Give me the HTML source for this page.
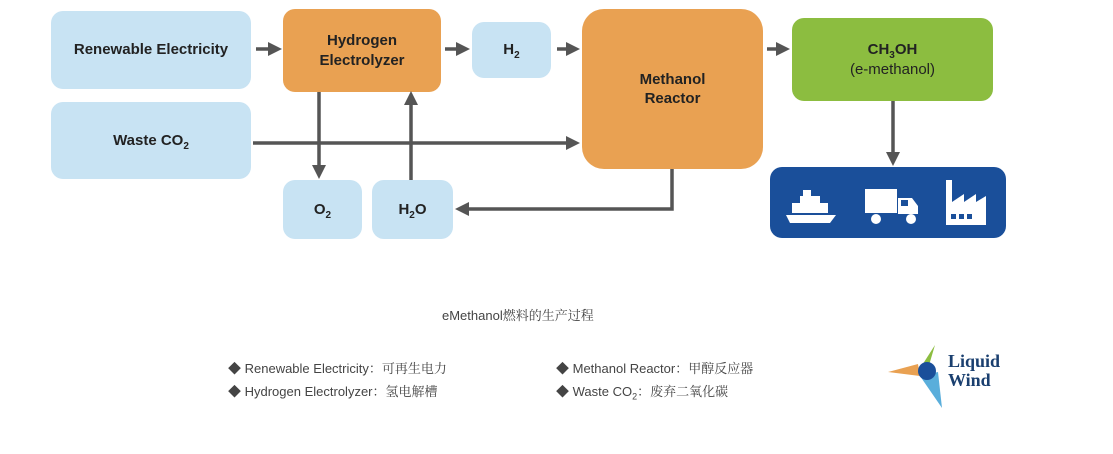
<!DOCTYPE html>
<html><head><meta charset="utf-8"><style>
body{margin:0;width:1113px;height:454px;background:#fff;position:relative;overflow:hidden;font-family:"Liberation Sans","Noto Sans CJK SC",sans-serif}
.b{position:absolute;border-radius:12px;display:flex;align-items:center;justify-content:center;text-align:center;font-weight:bold;font-size:15px;color:#222;line-height:1.3}
.l{background:#c8e3f3}
.o{background:#e9a152}
sub{font-size:10px;line-height:0}
.t{position:absolute;font-family:"Liberation Sans","Noto Serif CJK SC",sans-serif;color:#444;font-size:13px;white-space:nowrap}
</style></head><body>
<div class="b l" style="left:51px;top:11px;width:200px;height:78px">Renewable Electricity</div>
<div class="b l" style="left:51px;top:102px;width:200px;height:77px"><span>Waste CO<sub>2</sub></span></div>
<div class="b o" style="left:283px;top:9px;width:158px;height:83px">Hydrogen<br>Electrolyzer</div>
<div class="b l" style="left:472px;top:22px;width:79px;height:56px"><span>H<sub>2</sub></span></div>
<div class="b o" style="left:582px;top:9px;width:181px;height:160px;border-radius:22px">Methanol<br>Reactor</div>
<div class="b" style="left:792px;top:18px;width:201px;height:83px;background:#8cbd40;font-weight:normal"><span><b>CH<sub>3</sub>OH</b><br>(e-methanol)</span></div>
<div class="b l" style="left:283px;top:180px;width:79px;height:59px"><span>O<sub>2</sub></span></div>
<div class="b l" style="left:372px;top:180px;width:81px;height:59px"><span>H<sub>2</sub>O</span></div>
<div class="b" style="left:770px;top:167px;width:236px;height:71px;background:#1a4f9a"></div>
<svg style="position:absolute;left:0;top:0" width="1113" height="454">
<defs><marker id="a" markerWidth="4" markerHeight="4" refX="2" refY="2" orient="auto"><path d="M0,0L4,2L0,4z" fill="#555"/></marker></defs>
<g stroke="#555" stroke-width="3.5" fill="none" marker-end="url(#a)">
<path d="M256,49H275"/><path d="M445,49H463"/><path d="M557,49H573"/><path d="M767,49H783"/>
<path d="M253,143H573"/><path d="M319,92V172"/><path d="M411,180V98"/>
<path d="M672,169V209H462"/><path d="M893,101V159"/>
</g>
<g fill="#fff">
<path d="M786,215h50l-6,8h-40z"/><rect x="792" y="203" width="36" height="10"/><rect x="800" y="196" width="20" height="8"/><rect x="803" y="190" width="8" height="7"/>
<rect x="865" y="189" width="32" height="24"/><path d="M898,198h14l6,8v8h-20z"/><circle cx="876" cy="219" r="5"/><circle cx="911" cy="219" r="5"/>
<path d="M946,225v-45h6v22l12-8v8l12-8v8l10-6v29z"/>
</g>
<g fill="#1a4f9a"><rect x="951" y="214" width="5" height="5"/><rect x="959" y="214" width="5" height="5"/><rect x="967" y="214" width="5" height="5"/><rect x="901" y="200" width="7" height="6"/></g>
<path d="M935,345l-16,25l8,2z" fill="#8cbd40"/><path d="M888,372l30,-8l2,12z" fill="#e9a152"/><path d="M920,376l22,32l-4,-36z" fill="#5aaedb"/><circle cx="927" cy="371" r="9" fill="#1a4f9a"/>
</svg>
<div class="t" style="left:442px;top:305px;font-size:13px">eMethanol燃料的生产过程</div>
<div class="t" style="left:228px;top:358px">◆ Renewable Electricity：可再生电力</div>
<div class="t" style="left:228px;top:381px">◆ Hydrogen Electrolyzer：氢电解槽</div>
<div class="t" style="left:556px;top:358px">◆ Methanol Reactor：甲醇反应器</div>
<div class="t" style="left:556px;top:381px">◆ Waste CO<sub style="font-size:9px">2</sub>：废弃二氧化碳</div>
<div class="t" style="left:948px;top:352px;font-family:'Liberation Serif',serif;font-weight:bold;font-size:18px;line-height:19px;color:#1a3f6f">Liquid<br>Wind</div>
</body></html>
